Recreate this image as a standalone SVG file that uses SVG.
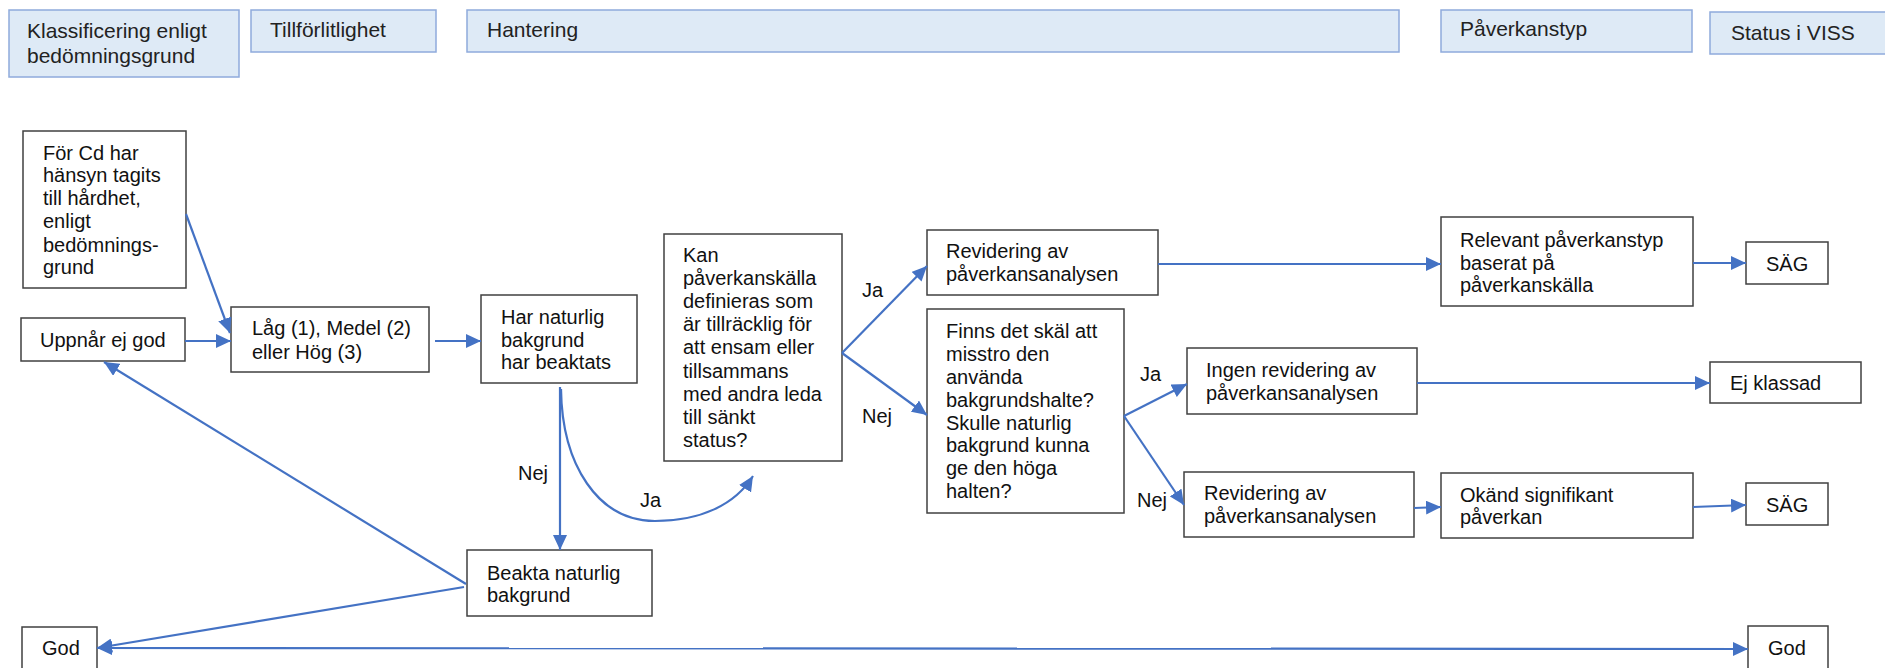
<svg xmlns="http://www.w3.org/2000/svg" width="1885" height="668" viewBox="0 0 1885 668">
<style>
.hdr rect{fill:#DEEAF6;stroke:#8FAADC;stroke-width:1.5}
.hdr text{font-family:"Liberation Sans",Arial,sans-serif;font-size:21px;fill:#222}
.node rect{fill:#fff;stroke:#404040;stroke-width:1.5}
.node text{font-family:"Liberation Sans",Arial,sans-serif;font-size:20px;fill:#111}
.lbl{font-family:"Liberation Sans",Arial,sans-serif;font-size:20px;fill:#111}
#connectors path{fill:none;stroke:#4472C4;stroke-width:2.2;marker-end:url(#arr)}
</style>
<defs>
<marker id="arr" markerUnits="userSpaceOnUse" markerWidth="16" markerHeight="14" refX="15" refY="7" orient="auto-start-reverse">
<path d="M0,0 L15,7 L0,14 z" fill="#4472C4"/>
</marker>
</defs>
<rect x="0" y="0" width="1885" height="668" fill="#fff"/>

<g id="h-klass" class="hdr"><rect x="9" y="10" width="230" height="67"/><text x="27"><tspan x="27" y="38">Klassificering enligt</tspan><tspan x="27" y="63">bedömningsgrund</tspan></text></g>
<g id="h-till" class="hdr"><rect x="251" y="10" width="185" height="42"/><text x="270" y="37">Tillförlitlighet</text></g>
<g id="h-hant" class="hdr"><rect x="467" y="10" width="932" height="42"/><text x="487" y="37">Hantering</text></g>
<g id="h-pav" class="hdr"><rect x="1441" y="10" width="251" height="42"/><text x="1460" y="36">Påverkanstyp</text></g>
<g id="h-status" class="hdr"><rect x="1710" y="12" width="185" height="42"/><text x="1731" y="40">Status i VISS</text></g>

<g id="n-forcd" class="node"><rect x="23" y="131" width="163" height="157"/><text><tspan x="43" y="160">För Cd har</tspan><tspan x="43" y="182">hänsyn tagits</tspan><tspan x="43" y="205">till hårdhet,</tspan><tspan x="43" y="228">enligt</tspan><tspan x="43" y="252">bedömnings-</tspan><tspan x="43" y="274">grund</tspan></text></g>
<g id="n-uppnar" class="node"><rect x="21" y="318" width="164" height="43"/><text x="40" y="347">Uppnår ej god</text></g>
<g id="n-lag" class="node"><rect x="231" y="307" width="198" height="65"/><text><tspan x="252" y="335">Låg (1), Medel (2)</tspan><tspan x="252" y="359">eller Hög (3)</tspan></text></g>
<g id="n-har" class="node"><rect x="481" y="295" width="156" height="88"/><text><tspan x="501" y="324">Har naturlig</tspan><tspan x="501" y="347">bakgrund</tspan><tspan x="501" y="369">har beaktats</tspan></text></g>
<g id="n-kan" class="node"><rect x="664" y="234" width="178" height="227"/><text><tspan x="683" y="262">Kan</tspan><tspan x="683" y="285">påverkanskälla</tspan><tspan x="683" y="308">definieras som</tspan><tspan x="683" y="331">är tillräcklig för</tspan><tspan x="683" y="354">att ensam eller</tspan><tspan x="683" y="378">tillsammans</tspan><tspan x="683" y="401">med andra leda</tspan><tspan x="683" y="424">till sänkt</tspan><tspan x="683" y="447">status?</tspan></text></g>
<g id="n-beakta" class="node"><rect x="467" y="550" width="185" height="66"/><text><tspan x="487" y="580">Beakta naturlig</tspan><tspan x="487" y="602">bakgrund</tspan></text></g>
<g id="n-rev1" class="node"><rect x="927" y="230" width="231" height="65"/><text><tspan x="946" y="258">Revidering av</tspan><tspan x="946" y="281">påverkansanalysen</tspan></text></g>
<g id="n-finns" class="node"><rect x="927" y="309" width="197" height="204"/><text><tspan x="946" y="338">Finns det skäl att</tspan><tspan x="946" y="361">misstro den</tspan><tspan x="946" y="384">använda</tspan><tspan x="946" y="407">bakgrundshalte?</tspan><tspan x="946" y="430">Skulle naturlig</tspan><tspan x="946" y="452">bakgrund kunna</tspan><tspan x="946" y="475">ge den höga</tspan><tspan x="946" y="498">halten?</tspan></text></g>
<g id="n-ingen" class="node"><rect x="1187" y="348" width="230" height="66"/><text><tspan x="1206" y="377">Ingen revidering av</tspan><tspan x="1206" y="400">påverkansanalysen</tspan></text></g>
<g id="n-rev2" class="node"><rect x="1184" y="472" width="230" height="65"/><text><tspan x="1204" y="500">Revidering av</tspan><tspan x="1204" y="523">påverkansanalysen</tspan></text></g>
<g id="n-relevant" class="node"><rect x="1441" y="217" width="252" height="89"/><text><tspan x="1460" y="247">Relevant påverkanstyp</tspan><tspan x="1460" y="270">baserat på</tspan><tspan x="1460" y="292">påverkanskälla</tspan></text></g>
<g id="n-okand" class="node"><rect x="1441" y="473" width="252" height="65"/><text><tspan x="1460" y="502">Okänd signifikant</tspan><tspan x="1460" y="524">påverkan</tspan></text></g>
<g id="n-sag1" class="node"><rect x="1746" y="242" width="82" height="42"/><text x="1766" y="271">SÄG</text></g>
<g id="n-ejklassad" class="node"><rect x="1710" y="362" width="151" height="41"/><text x="1730" y="390">Ej klassad</text></g>
<g id="n-sag2" class="node"><rect x="1746" y="483" width="82" height="42"/><text x="1766" y="512">SÄG</text></g>
<g id="n-god1" class="node"><rect x="22" y="627" width="75" height="60"/><text x="42" y="655">God</text></g>
<g id="n-god2" class="node"><rect x="1748" y="626" width="80" height="60"/><text x="1768" y="655">God</text></g>

<g id="connectors">
<path d="M186,214 L230,333"/>
<path d="M185,341 L231,341"/>
<path d="M435,341 L481,341"/>
<path d="M560,387 L560,550"/>
<path d="M561,389 C562,465 598,521 655,521 C700,521 735,505 753,476"/>
<path d="M466,584 L104,362"/>
<path d="M464,587 L97,648"/>
<path d="M97,648 L1748,649" style="marker-start:url(#arr)"/>
<path d="M842,353 L927,266"/>
<path d="M842,353 L927,415"/>
<path d="M1158,264 L1441,264"/>
<path d="M1693,263 L1746,263"/>
<path d="M1124,416 L1187,384"/>
<path d="M1124,416 L1184,505"/>
<path d="M1417,383 L1710,383"/>
<path d="M1414,508 L1441,507"/>
<path d="M1693,507 L1746,505"/>
<text class="lbl" x="862" y="297">Ja</text>
<text class="lbl" x="862" y="423">Nej</text>
<text class="lbl" x="518" y="480">Nej</text>
<text class="lbl" x="640" y="507">Ja</text>
<text class="lbl" x="1140" y="381">Ja</text>
<text class="lbl" x="1137" y="507">Nej</text>
</g>
</svg>
